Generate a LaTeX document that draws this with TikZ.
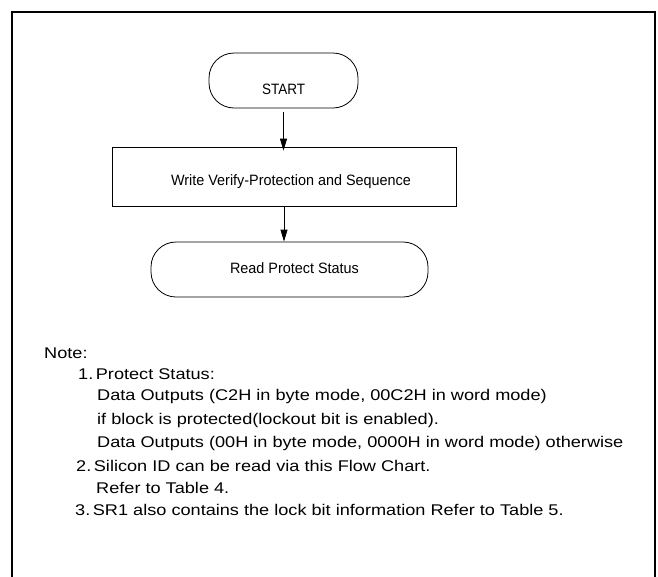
\documentclass[tikz,border=0pt]{standalone}
\usepackage{fontspec}
\setmainfont{Liberation Sans}
\newfontfamily\notefont[FakeStretch=1.17]{Liberation Sans}
\newfontfamily\chartfont[FakeStretch=0.96]{Liberation Sans}
\newfontfamily\startfont[FakeStretch=0.9]{Liberation Sans}
\usetikzlibrary{arrows.meta}
\tikzset{
  frameline/.style={line width=2pt, line join=miter},
  term/.style={draw, line width=0.8pt, rectangle, rounded corners=25pt, inner sep=0pt, minimum height=55pt},
  procbox/.style={draw, line width=0.8pt, rectangle, inner sep=0pt},
  arr/.style={line width=0.8pt, -{Triangle[length=12pt,width=7pt]}},
  notetext/.style={anchor=base west, inner sep=0pt, font=\notefont\fontsize{15.5}{18}\selectfont},
}
\begin{document}
\begin{tikzpicture}[x=1pt,y=-1pt]
\useasboundingbox (0,0) rectangle (658,576);
\draw[frameline] (12,585) -- (12,12) -- (655,12) -- (655,585);

\node[term, minimum width=149pt, text height=28.7pt, text depth=0pt,
      font=\startfont\fontsize{15}{18}\selectfont] (start) at (283.5,80.5) {START};
\node[procbox, minimum width=344pt, minimum height=59pt, text height=18.7pt, text depth=0pt,
      font=\chartfont\fontsize{15}{18}\selectfont] (box) at (284,176.5)
      {\hspace*{14pt}Write Verify-Protection and Sequence};
\node[term, minimum width=277pt, text height=7.7pt, text depth=0pt,
      font=\chartfont\fontsize{15}{18}\selectfont] (read) at (289.5,269.5)
      {\hspace*{10pt}Read Protect Status};

\draw[arr] ([yshift=-4pt]start.south) -- ([yshift=-4pt]start.south |- box.north);
\draw[arr] ([yshift=-1pt]box.south) -- (box.south |- read.north);

\node[notetext] (n0) at (44,358) {Note:};
\node[notetext] (n1) at (78,379.5) {1.\,Protect Status:};
\node[notetext] (n2) at (97,400.5) {Data Outputs (C2H in byte mode, 00C2H in word mode)};
\node[notetext] (n3) at (97,424) {if block is protected(lockout bit is enabled).};
\node[notetext] (n4) at (97,447.5) {Data Outputs (00H in byte mode, 0000H in word mode) otherwise};
\node[notetext] (n5) at (76,471.5) {2.\,Silicon ID can be read via this Flow Chart.};
\node[notetext] (n6) at (96,493.5) {Refer to Table 4.};
\node[notetext] (n7) at (75,515) {3.\,SR1 also contains the lock bit information Refer to Table 5.};
\end{tikzpicture}
\end{document}
